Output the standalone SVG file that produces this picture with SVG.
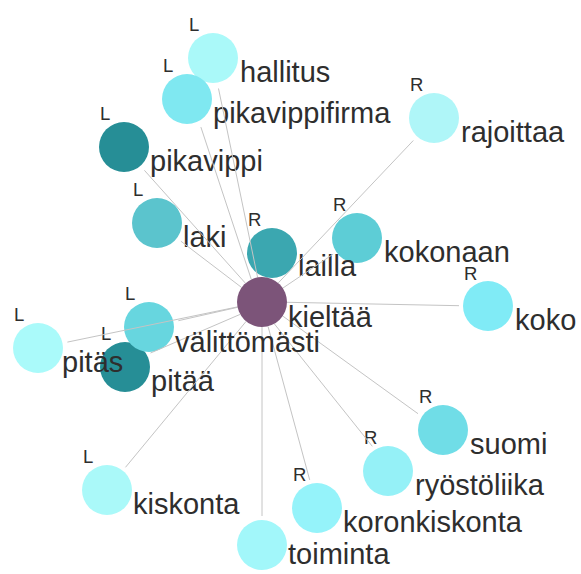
<svg xmlns="http://www.w3.org/2000/svg" width="581" height="574" viewBox="0 0 581 574">
<style>
.lbl{font-family:"Liberation Sans",Arial,sans-serif;font-size:29px;fill:#2e2e2e}
.side{font-family:"Liberation Sans",Arial,sans-serif;font-size:18.5px;fill:#2e2e2e}
.e{stroke:#c4c4c4;stroke-width:1;fill:none}
</style>
<rect width="581" height="574" fill="#fff"/>
<g id="n-hallitus"><circle cx="213" cy="58" r="25" fill="#aaf9f9"/><text class="side" x="189" y="31">L</text><text class="lbl" x="240" y="82">hallitus</text></g>
<g id="n-pikavippifirma"><circle cx="187" cy="99" r="25" fill="#7fe8f1"/><text class="side" x="163" y="72">L</text><text class="lbl" x="213" y="123">pikavippifirma</text></g>
<g id="n-pikavippi"><circle cx="124" cy="147" r="25" fill="#268e96"/><text class="side" x="100" y="120">L</text><text class="lbl" x="150" y="171">pikavippi</text></g>
<g id="n-laki"><circle cx="157" cy="223" r="25" fill="#5bc4cd"/><text class="side" x="133" y="196">L</text><text class="lbl" x="183" y="247">laki</text></g>
<g id="n-rajoittaa"><circle cx="434" cy="118" r="25" fill="#aff6f8"/><text class="side" x="410" y="91">R</text><text class="lbl" x="461" y="142">rajoittaa</text></g>
<g id="n-kokonaan"><circle cx="357" cy="238" r="25" fill="#5dcdd6"/><text class="side" x="333" y="211">R</text><text class="lbl" x="384" y="262">kokonaan</text></g>
<g id="n-koko"><circle cx="488" cy="306" r="25" fill="#80ebf6"/><text class="side" x="464" y="280">R</text><text class="lbl" x="515" y="330">koko</text></g>
<g id="n-pitaa"><circle cx="125" cy="367" r="25" fill="#268e96"/><text class="side" x="101" y="340">L</text><text class="lbl" x="151" y="391">pitää</text></g>
<g id="n-pitas"><circle cx="38" cy="348" r="25" fill="#aafafa"/><text class="side" x="14" y="321">L</text><text class="lbl" x="62" y="372">pitäs</text></g>
<g id="n-valittomasti"><circle cx="149" cy="327" r="25" fill="#67d6df"/><text class="side" x="125" y="300">L</text></g>
<g id="n-kiskonta"><circle cx="107" cy="490" r="25" fill="#aaf9f9"/><text class="side" x="83" y="463">L</text><text class="lbl" x="133" y="514">kiskonta</text></g>
<g id="n-toiminta"><circle cx="262" cy="545" r="25" fill="#a2f7fa"/><text class="lbl" x="288" y="564">toiminta</text></g>
<g id="n-koronkiskonta"><circle cx="317" cy="508" r="25" fill="#95f3fa"/><text class="side" x="293" y="481">R</text><text class="lbl" x="343" y="532">koronkiskonta</text></g>
<g id="n-ryostoliika"><circle cx="388" cy="471" r="25" fill="#95f1f7"/><text class="side" x="364" y="444">R</text><text class="lbl" x="415" y="495">ryöstöliika</text></g>
<g id="n-suomi"><circle cx="443" cy="430" r="25" fill="#70dde7"/><text class="side" x="419" y="403">R</text><text class="lbl" x="470" y="454">suomi</text></g>
<g id="n-lailla"><circle cx="272" cy="253" r="25" fill="#3ba7b0"/><text class="side" x="248" y="226">R</text><text class="lbl" x="298" y="276">lailla</text></g>
<g id="edges">
<line class="e" x1="257.6" y1="277.4" x2="218.5" y2="88.5"/>
<line class="e" x1="251.3" y1="279.4" x2="200.9" y2="127.1"/>
<line class="e" x1="245.5" y1="283.3" x2="144.4" y2="170.3"/>
<line class="e" x1="241.5" y1="287.4" x2="180.9" y2="241.2"/>
<line class="e" x1="278.3" y1="282.9" x2="413.3" y2="140.5"/>
<line class="e" x1="282.8" y1="288.1" x2="333.1" y2="254.2"/>
<line class="e" x1="287" y1="302.3" x2="459" y2="305.7"/>
<line class="e" x1="237.5" y1="306.9" x2="67.4" y2="342.1"/>
<line class="e" x1="237.6" y1="307.3" x2="178.4" y2="320.7"/>
<line class="e" x1="240.1" y1="314.4" x2="150.5" y2="353"/>
<line class="e" x1="246.1" y1="321.4" x2="125.5" y2="467.3"/>
<line class="e" x1="262" y1="327" x2="262" y2="516"/>
<line class="e" x1="268" y1="326.3" x2="309.7" y2="479.9"/>
<line class="e" x1="274.3" y1="323.8" x2="372.3" y2="446.3"/>
<line class="e" x1="282.7" y1="316" x2="418" y2="413.7"/>
</g>
<g id="n-kieltaa"><circle cx="262" cy="302" r="25" fill="#7c5479"/><text class="lbl" x="288" y="327">kieltää</text></g>
<text class="lbl" x="175" y="352">välittömästi</text>
</svg>
